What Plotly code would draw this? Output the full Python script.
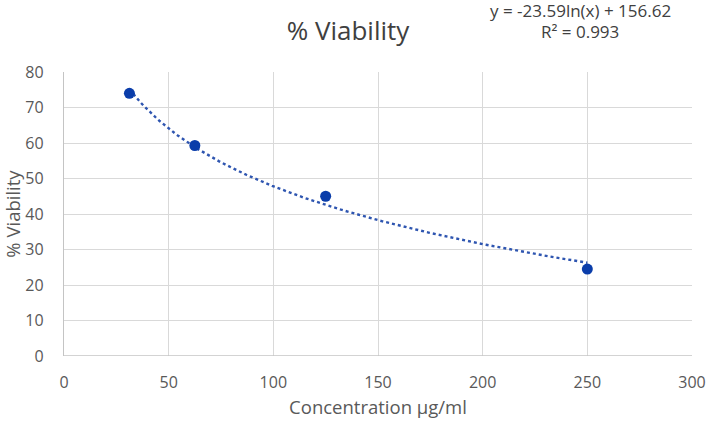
import numpy as np
import plotly.graph_objects as go

concentration = [31.25, 62.5, 125, 250]
viability = [74.0, 59.3, 45.0, 24.5]
x_ticks = [0, 50, 100, 150, 200, 250, 300]
y_ticks = [0, 10, 20, 30, 40, 50, 60, 70, 80]
equation_line1 = "y = -23.59ln(x) + 156.62"
equation_line2 = "R² = 0.993"

# logarithmic trendline fitted from the data (as in the spreadsheet)
slope, intercept = np.polyfit(np.log(concentration), viability, 1)
xt = np.linspace(min(concentration), max(concentration), 200)
yt = slope * np.log(xt) + intercept

fig = go.Figure()
fig.add_trace(go.Scatter(x=xt, y=yt, mode="lines",
                         line=dict(color="#2E55B0", width=2.4, dash="dot"),
                         hoverinfo="skip", showlegend=False))
fig.add_trace(go.Scatter(x=concentration, y=viability, mode="markers",
                         marker=dict(color="#0A3DAA", size=11),
                         showlegend=False))

font_family = "Open Sans, Liberation Sans, sans-serif"
W, H = 709, 424
fig.update_layout(
    width=W, height=H,
    margin=dict(l=64, r=17, t=72, b=68),
    paper_bgcolor="white", plot_bgcolor="white",
    font=dict(family=font_family, color="#595959", size=16),
    title=dict(text="% Viability", x=348 / W, xref="container", xanchor="center",
               y=1 - 31 / H, yref="container", yanchor="middle",
               font=dict(size=26, color="#404040")),
    xaxis=dict(range=[0, 300], tickvals=x_ticks, showgrid=True, gridcolor="#D9D9D9",
               gridwidth=1.3, zeroline=False, showline=False,
               ticks="outside", ticklen=12, tickcolor="rgba(0,0,0,0)",
               automargin=False,
               title=dict(text="Concentration µg/ml", standoff=8,
                          font=dict(size=18.5, color="#595959")),
               tickfont=dict(size=16)),
    yaxis=dict(range=[0, 80], tickvals=y_ticks, showgrid=True, gridcolor="#D9D9D9",
               gridwidth=1.3, zeroline=False, showline=True, linecolor="#C4C4C4",
               linewidth=1.3,
               ticks="outside", ticklen=16, tickcolor="rgba(0,0,0,0)",
               automargin=False,
               title=dict(text="% Viability", standoff=8,
                          font=dict(size=18.5, color="#595959")),
               tickfont=dict(size=16)),
)
fig.add_shape(type="line", xref="x", yref="y", x0=0, x1=300, y0=0, y1=0,
              line=dict(color="#C4C4C4", width=1.3))
fig.add_annotation(text=equation_line1, xref="paper", yref="paper",
                   x=(580 - 64) / (W - 64 - 17), y=1 + (72 - 10) / (H - 72 - 68),
                   xanchor="center", yanchor="middle", showarrow=False,
                   font=dict(size=17, color="#404040"))
fig.add_annotation(text=equation_line2, xref="paper", yref="paper",
                   x=(580 - 64) / (W - 64 - 17), y=1 + (72 - 31) / (H - 72 - 68),
                   xanchor="center", yanchor="middle", showarrow=False,
                   font=dict(size=17, color="#404040"))

fig.write_html("out.html", config={"displayModeBar": False},
               post_script="document.body.style.margin='0';document.body.style.overflow='hidden';")
